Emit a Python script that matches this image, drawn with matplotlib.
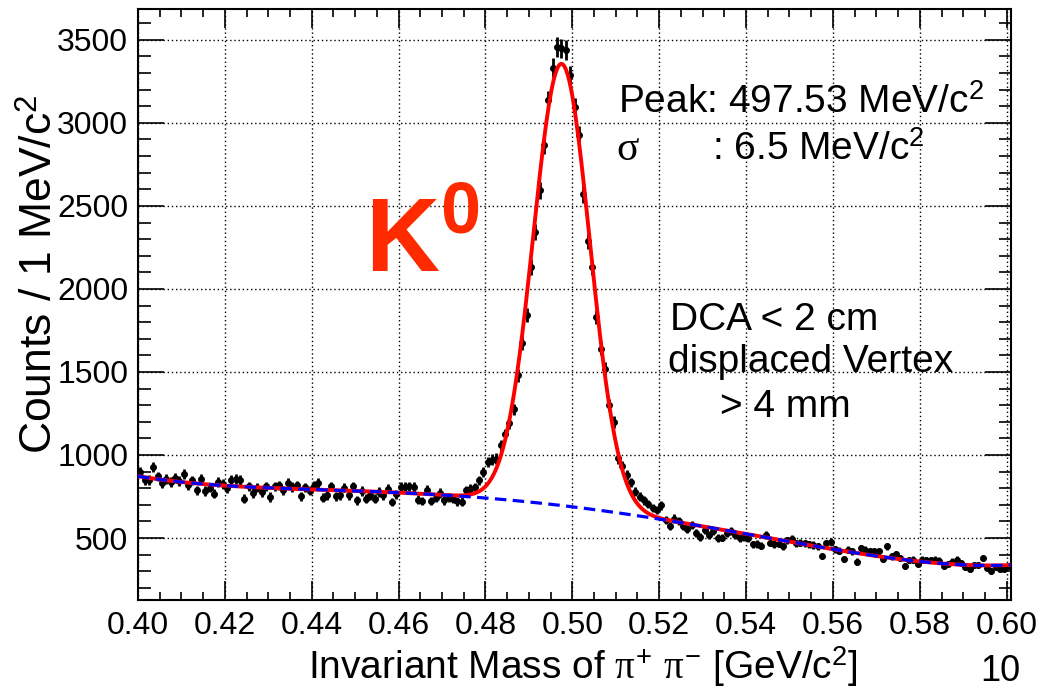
import numpy as np
import matplotlib.pyplot as plt
from matplotlib.ticker import MultipleLocator, FormatStrFormatter

plt.rcParams['font.family'] = ['Liberation Sans', 'DejaVu Sans']
plt.rcParams['mathtext.fontset'] = 'custom'
plt.rcParams['mathtext.rm'] = 'Liberation Sans'
plt.rcParams['mathtext.it'] = 'Liberation Serif'
plt.rcParams['mathtext.bf'] = 'Liberation Sans:bold'

# histogram: 1 MeV bins starting at 0.400 GeV
bin_lo = 0.400
bin_width = 0.001
counts = [
    895, 847, 851, 928, 871, 831, 857, 837, 863, 843,
    883, 817, 847, 787, 857, 783, 803, 767, 837, 827,
    800, 851, 857, 851, 737, 811, 771, 803, 777, 811,
    747, 811, 817, 787, 831, 807, 817, 751, 805, 785,
    815, 830, 743, 757, 811, 751, 757, 803, 757, 811,
    727, 783, 737, 757, 737, 777, 757, 797, 717, 763,
    807, 807, 811, 807, 731, 723, 791, 723, 743, 771,
    727, 745, 738, 720, 718, 787, 797, 805, 847, 898,
    958, 972, 978, 1059, 1124, 1194, 1274, 1480, 1675, 1841,
    2133, 2344, 2594, 2866, 3137, 3333, 3458, 3448, 3438, 3287,
    3096, 2926, 2570, 2290, 2130, 1830, 1640, 1520, 1300, 1199,
    980, 935, 878, 835, 778, 750, 727, 705, 680, 670,
    697, 610, 575, 617, 605, 570, 553, 576, 530, 506,
    550, 519, 544, 499, 502, 530, 544, 519, 498, 506,
    499, 462, 464, 453, 519, 473, 464, 466, 451, 486,
    496, 468, 471, 469, 463, 458, 450, 393, 468, 476,
    433, 424, 374, 430, 419, 358, 439, 430, 419, 419,
    422, 376, 450, 390, 404, 379, 333, 368, 370, 342,
    370, 369, 368, 370, 364, 330, 346, 358, 370, 351,
    325, 313, 339, 336, 379, 319, 301, 327, 316, 313,
    331]

# background
bkg_x = [0.40, 0.41, 0.42, 0.43, 0.44, 0.45, 0.46, 0.47, 0.48, 0.49, 0.50,
         0.51, 0.52, 0.53, 0.54, 0.55, 0.56, 0.57, 0.58, 0.59, 0.60]
bkg_y = [872, 838, 817, 800, 791, 783, 776, 762, 743, 715, 681,
         652, 620, 572, 528, 476, 429, 392, 358, 342, 335]

# signal peak
peak_mean = 0.49753
peak_sigma = 0.0065
peak_amp = 2660

counts = np.array(counts, dtype=float)
centers = bin_lo + bin_width * (np.arange(len(counts)) + 0.5)

# smooth background like the original polynomial fit
coef = np.polyfit(np.array(bkg_x) - 0.5, bkg_y, 6)
xf = np.linspace(0.400, 0.601, 600)
bkg = np.polyval(coef, xf - 0.5)
total = bkg + peak_amp * np.exp(-0.5 * ((xf - peak_mean) / peak_sigma) ** 2)

fig = plt.figure(figsize=(10.45, 6.89), dpi=100)
ax = fig.add_axes([138 / 1045, 1 - 600.3 / 689, 873 / 1045, 591 / 689])

ax.errorbar(centers, counts, yerr=np.sqrt(counts), fmt='o', ms=4,
            color='black', ecolor='black', elinewidth=2.0, capsize=0, zorder=2)
ax.plot(xf, total, color='red', lw=2.8, zorder=3)
ax.plot(xf, bkg, color='blue', lw=2.3, dashes=(3.6, 2.0), zorder=4)

ax.set_xlim(0.400, 0.601)
ax.set_ylim(125, 3684)
ax.xaxis.set_major_locator(MultipleLocator(0.02))
ax.xaxis.set_minor_locator(MultipleLocator(0.005))
ax.xaxis.set_major_formatter(FormatStrFormatter('%.2f'))
ax.yaxis.set_major_locator(MultipleLocator(500))
ax.yaxis.set_minor_locator(MultipleLocator(100))

ax.grid(True, which='major', color='black', lw=1.0, linestyle=(0, (1, 2)))
ax.tick_params(which='both', direction='in', top=True, right=True, labelsize=23)
ax.tick_params(axis='y', which='major', length=19, width=1.2, pad=7)
ax.tick_params(axis='y', which='minor', length=9, width=1.2)
ax.tick_params(axis='x', which='major', length=14, width=1.2, pad=8)
ax.tick_params(axis='x', which='minor', length=6, width=1.2)
for s in ax.spines.values():
    s.set_linewidth(1.5)

ax.set_xlabel(r'Invariant Mass of $\pi^{+}$ $\pi^{-}$ [GeV/c$^{2}$]', fontsize=28,
              ha='right', va='baseline')
ax.xaxis.set_label_coords((858 - 138) / 873, (600.3 - 679) / 591)
ax.set_ylabel(r'Counts / 1 MeV/c$^{2}$', fontsize=32, ha='right', va='center')
ax.yaxis.set_label_coords((40 - 138) / 873, (600.3 - 95) / 591)

# annotations
def px(x, y):
    return x / 1045, 1 - y / 689
fig.text(*px(365, 272), r'$\mathbf{K^{0}}$', fontsize=74,
         color='#ff2a00', ha='left', va='baseline')
fig.text(*px(618, 113), r'Peak: 497.53 MeV/c$^{2}$', fontsize=28, va='baseline')
fig.text(*px(616, 160), r'$\sigma$', fontsize=30, va='baseline')
fig.text(*px(712, 160), r': 6.5 MeV/c$^{2}$', fontsize=28, va='baseline')
fig.text(*px(670, 330), 'DCA < 2 cm', fontsize=28, va='baseline')
fig.text(*px(668, 372), 'displaced Vertex', fontsize=28, va='baseline')
fig.text(*px(720, 417), '> 4 mm', fontsize=28, va='baseline')
fig.text(*px(1000, 681), '10', fontsize=26, ha='center', va='baseline')

fig.savefig('out.png', dpi=100)
